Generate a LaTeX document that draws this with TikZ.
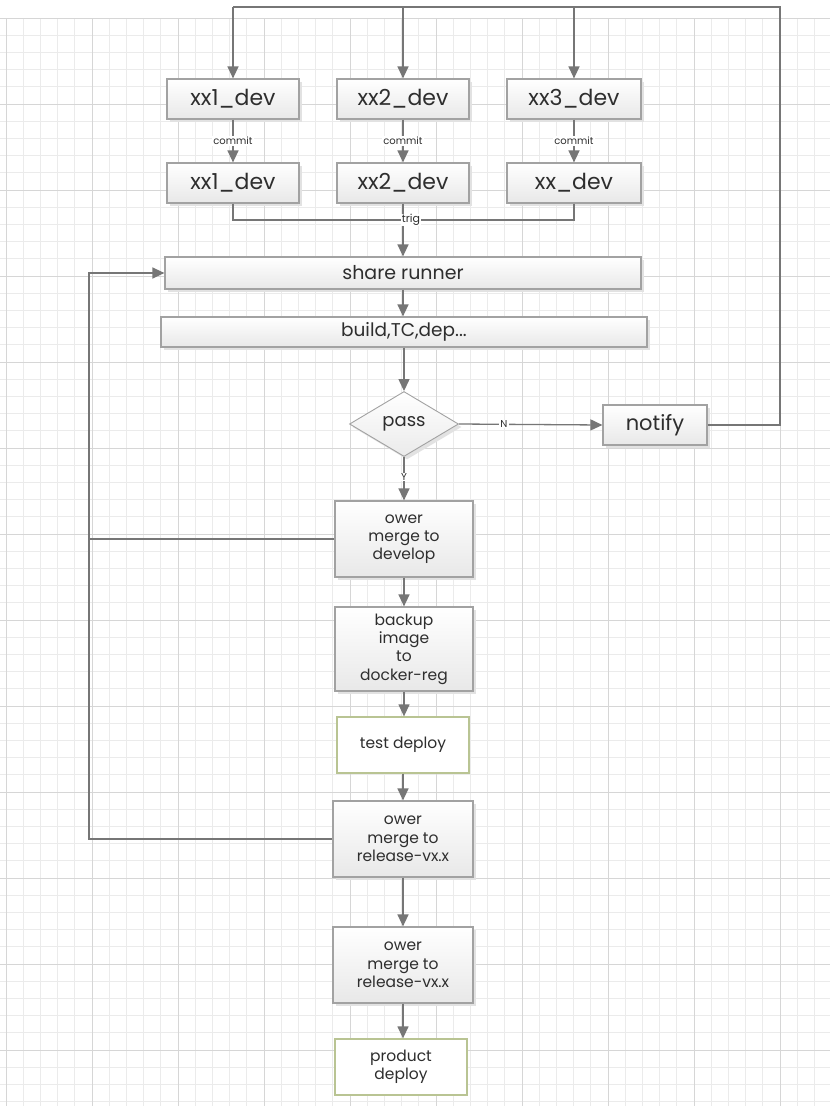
\documentclass[tikz,border=0pt]{standalone}
\usepackage{fontspec}
\setmainfont{Poppins}
\usetikzlibrary{arrows.meta,shapes.geometric,shadows}

\definecolor{gridminor}{HTML}{EBEBEB}
\definecolor{gridmajor}{HTML}{D6D6D6}
\definecolor{edge}{HTML}{767676}
\definecolor{boxline}{HTML}{A2A2A2}
\definecolor{ink}{HTML}{2E2E2E}
\definecolor{greenline}{HTML}{B9C493}
\definecolor{shadowgray}{HTML}{E2E2E2}

\begin{document}
\begin{tikzpicture}[x=1pt,y=-1pt,
  box/.style={draw=boxline, line width=1.2pt, top color=white, bottom color=black!9,
    drop shadow={shadow xshift=3pt,shadow yshift=-3pt,fill=shadowgray,opacity=1},
    text=ink, inner sep=0pt, align=center},
  greenbox/.style={draw=greenline, line width=1.3pt, fill=white, text=ink,
    inner sep=0pt, align=center, font=\fontsize{15.5}{18.5}\selectfont},
  devbox/.style={box, minimum width=132pt, minimum height=40pt, font=\fontsize{22}{24}\selectfont},
  stagebox/.style={box, font=\fontsize{15.5}{18.3}\selectfont},
  decision/.style={diamond, aspect=1.68, draw=boxline, line width=0.9pt, top color=white,
    bottom color=black!8, text=ink, inner sep=0pt, minimum width=109pt, minimum height=65pt,
    drop shadow={shadow xshift=3pt,shadow yshift=-3pt,fill=shadowgray,opacity=1},
    font=\fontsize{18}{22}\selectfont},
  link/.style={draw=edge, line width=1.3pt},
  flow/.style={link, -{Triangle[width=11pt,length=12pt]}},
  tag/.style={fill=white, text=ink, inner sep=1pt, font=\fontsize{10}{12}\selectfont},
]
\useasboundingbox (0,0) rectangle (830,1106);
\fill[white] (0,0) rectangle (830,1106);

% background grid
\foreach \i in {0,...,47} \draw[gridminor, line width=0.9pt] (6+17.2*\i,18) -- (6+17.2*\i,1106);
\foreach \j in {0,...,63} \draw[gridminor, line width=0.9pt] (0,18+17.2*\j) -- (830,18+17.2*\j);
\foreach \i in {0,...,9} \draw[gridmajor, line width=1pt] (6+86*\i,18) -- (6+86*\i,1106);
\foreach \j in {0,...,12} \draw[gridmajor, line width=1pt] (0,18+86*\j) -- (830,18+86*\j);

% developer branches
\node[devbox] (a1) at (233,99) {xx1\_dev};
\node[devbox] (a2) at (403,99) {xx2\_dev};
\node[devbox, minimum width=134pt] (a3) at (574,99) {xx3\_dev};
\node[devbox] (b1) at (233,183) {xx1\_dev};
\node[devbox] (b2) at (403,183) {xx2\_dev};
\node[devbox, minimum width=134pt] (b3) at (574,183) {xx\_dev};

% pipeline
\node[box, minimum width=476pt, minimum height=32pt, font=\fontsize{19}{21}\selectfont] (runner) at (403,273) {share runner};
\node[box, minimum width=486pt, minimum height=30pt, font=\fontsize{18.5}{21}\selectfont] (build) at (404,332) {build,TC,dep...};
\node[decision] (pass) at (404,424) {pass};
\node[devbox, minimum width=104pt, font=\fontsize{21}{24}\selectfont] (notify) at (655,425) {notify};
\node[stagebox, minimum width=138pt, minimum height=76pt] (dev) at (404,539) {ower\\merge to\\develop};
\node[stagebox, minimum width=138pt, minimum height=84pt] (backup) at (404,649) {backup\\image\\to\\docker-reg};
\node[greenbox, minimum width=132pt, minimum height=56pt] (test) at (403,745) {test deploy};
\node[stagebox, minimum width=140pt, minimum height=76pt] (rel1) at (403,839) {ower\\merge to\\release-vx.x};
\node[stagebox, minimum width=140pt, minimum height=76pt] (rel2) at (403,965) {ower\\merge to\\release-vx.x};
\node[greenbox, minimum width=132pt, minimum height=56pt] (prod) at (401,1067) {product\\deploy};

% notification loop back to the developers
\coordinate (loopR) at (780,7);
\coordinate (loopL) at (233,7);
\draw[link] (notify.east) -| (loopR) -- (loopL);
\draw[flow] (loopL) -- (a1.north);
\draw[flow] (a2.north |- loopR) -- (a2.north);
\draw[flow] (a3.north |- loopR) -- (a3.north);

% commits
\draw[flow] (a1.south) -- node[tag]{commit} (b1.north);
\draw[flow] (a2.south) -- node[tag]{commit} (b2.north);
\draw[flow] (a3.south) -- node[tag]{commit} (b3.north);

% merged trigger
\coordinate (trig) at (403,220);
\draw[link] (b1.south) |- (trig);
\draw[link] (b3.south) |- (trig);
\draw[link] (b2.south) -- (trig);
\draw[flow] (trig) -- (runner.north);
\node[tag, inner sep=0.5pt, font=\fontsize{11}{12}\selectfont] (trigtag) at (411,220) {trig};

% main flow
\draw[flow] (runner.south) -- (runner.south |- build.north);
\draw[flow] (build.south -| pass.north) -- (pass.north);
\draw[flow] (pass.east) -- (notify.west);
\node[tag] (ntag) at (504,424) {N};
\draw[flow] (pass.south) -- (pass.south |- dev.north);
\node[tag] (ytag) at (404,477) {Y};
\draw[flow] (dev.south) -- (backup.north);
\draw[flow] (backup.south) -- (backup.south |- test.north);
\draw[flow] (test.south) -- (test.south |- rel1.north);
\draw[flow] (rel1.south) -- (rel2.north);
\draw[flow] (rel2.south) -- (rel2.south |- prod.north);

% feedback to the shared runner
\coordinate (fb) at (89,839);
\draw[flow] (rel1.west) -- (fb) |- (runner.west);
\draw[link] (dev.west) -- (dev.west -| fb);
\end{tikzpicture}
\end{document}
